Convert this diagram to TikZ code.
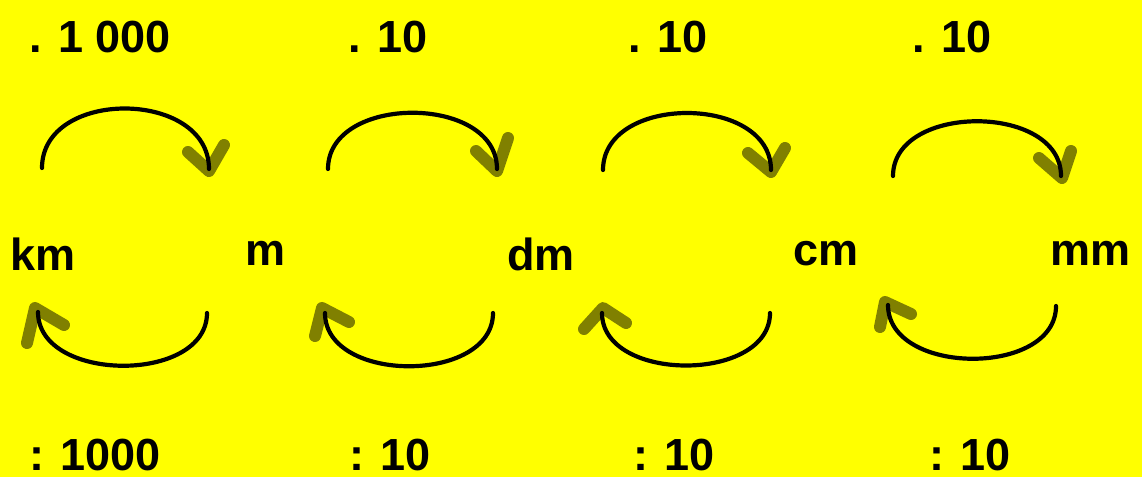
\documentclass[tikz,border=0pt]{standalone}
\usepackage{fontspec}
\setmainfont{Liberation Sans}
\definecolor{bgyellow}{RGB}{255,255,0}
\definecolor{headolive}{RGB}{128,128,0}
\begin{document}
\begin{tikzpicture}[x=1pt,y=-1pt,
  lbl/.style={anchor=base,inner sep=0pt,font=\fontsize{45}{50}\selectfont\bfseries},
  arcline/.style={draw=black,line width=4.2pt,line cap=round},
  headstroke/.style={draw=headolive,line width=12pt,line cap=round,line join=round}]
\fill[bgyellow] (0,0) rectangle (1142,477);
\useasboundingbox (0,0) rectangle (1142,477);
% labels
\node[lbl] (t1) at (100,52) {. 1 000};
\node[lbl] (t2) at (388,52) {. 10};
\node[lbl] (t3) at (668,52) {. 10};
\node[lbl] (t4) at (952,52) {. 10};
\node[lbl] (b1) at (95,470) {: 1000};
\node[lbl] (b2) at (390,470) {: 10};
\node[lbl] (b3) at (674,470) {: 10};
\node[lbl] (b4) at (970,470) {: 10};
\node[lbl] (km) at (43,270) {km};
\node[lbl] (m) at (266,265) {m};
\node[lbl] (dm) at (541,270) {dm};
\node[lbl] (cm) at (826,265) {cm};
\node[lbl] (mm) at (1090,265) {mm};
% top arc end points
\coordinate (ta1) at (42,168);  \coordinate (tb1) at (209,169);
\coordinate (ta2) at (328,169); \coordinate (tb2) at (497,169);
\coordinate (ta3) at (603,170); \coordinate (tb3) at (771,170);
\coordinate (ta4) at (893,176); \coordinate (tb4) at (1061,176);
% bottom arc end points (arrow at the left end)
\coordinate (ba1) at (38,312);  \coordinate (bb1) at (207,313);
\coordinate (ba2) at (325,313); \coordinate (bb2) at (493,313);
\coordinate (ba3) at (602,313); \coordinate (bb3) at (770,313);
\coordinate (ba4) at (888,305); \coordinate (bb4) at (1056,306);
% arrowheads (drawn first, under the arcs)
\coordinate (th1) at (209,171); \coordinate (th1l) at (188,152); \coordinate (th1r) at (224,145);
\coordinate (th2) at (497,171); \coordinate (th2l) at (476,151); \coordinate (th2r) at (508,138);
\coordinate (th3) at (771,172); \coordinate (th3l) at (748,153); \coordinate (th3r) at (785,148);
\coordinate (th4) at (1062,178); \coordinate (th4l) at (1039,158); \coordinate (th4r) at (1071,151);
\coordinate (bh1) at (35,308); \coordinate (bh1d) at (27,343); \coordinate (bh1r) at (64,325);
\coordinate (bh2) at (322,308); \coordinate (bh2d) at (315,336); \coordinate (bh2r) at (349,322);
\coordinate (bh3) at (603,308); \coordinate (bh3d) at (584,329); \coordinate (bh3r) at (626,323);
\coordinate (bh4) at (885,302); \coordinate (bh4d) at (880,327); \coordinate (bh4r) at (911,314);
\foreach \i in {1,2,3,4}{
  \draw[headstroke] (th\i l) -- (th\i) -- (th\i r);
  \draw[headstroke] (bh\i d) -- (bh\i) -- (bh\i r);
}
% arcs
\draw[arcline] (ta1) .. controls +(0,-80) and +(0,-80) .. (tb1);
\draw[arcline] (ta2) .. controls +(0,-75) and +(0,-75) .. (tb2);
\draw[arcline] (ta3) .. controls +(0,-76) and +(0,-76) .. (tb3);
\draw[arcline] (ta4) .. controls +(0,-73) and +(0,-73) .. (tb4);
\draw[arcline] (ba1) .. controls +(0,71) and +(0,71) .. (bb1);
\draw[arcline] (ba2) .. controls +(0,71) and +(0,71) .. (bb2);
\draw[arcline] (ba3) .. controls +(0,70) and +(0,70) .. (bb3);
\draw[arcline] (ba4) .. controls +(0,71) and +(0,71) .. (bb4);
\end{tikzpicture}
\end{document}
